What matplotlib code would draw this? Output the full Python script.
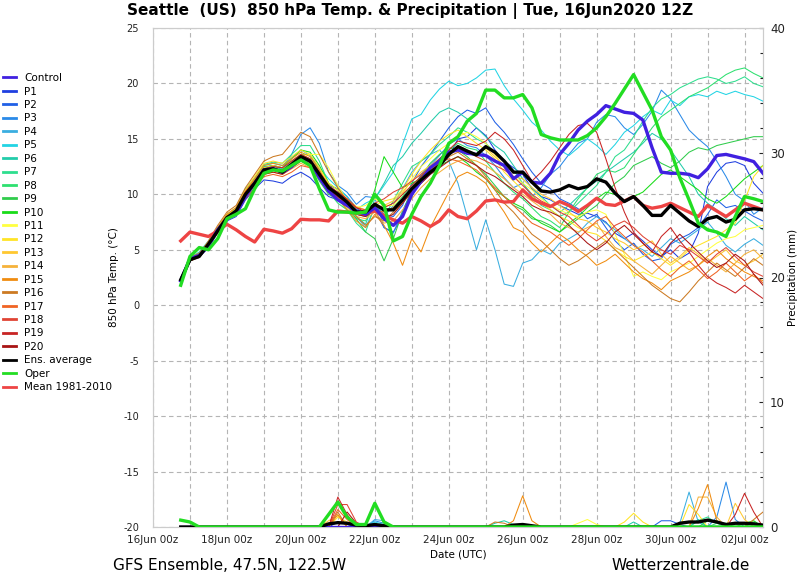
import numpy as np
import matplotlib
matplotlib.use("Agg")
import matplotlib.pyplot as plt
import matplotlib.dates as mdates
from matplotlib.ticker import MultipleLocator

plt.rcParams['font.family'] = ['DejaVu Sans']
plt.rcParams['axes.unicode_minus'] = False

# ---------------- data ----------------
start_time = np.datetime64('2020-06-16T18:00')
n_steps = 64
times = start_time + np.arange(n_steps) * np.timedelta64(6, 'h')
tick_dates = np.arange(np.datetime64('2020-06-16'), np.datetime64('2020-07-03'), np.timedelta64(2, 'D'))

control = [2.2, 4.2, 4.5, 5.3, 6.8, 7.8, 8.3, 9.8,
           11.0, 12.2, 12.3, 12.0, 12.5, 13.3, 13.0, 11.5,
           10.3, 9.5, 9.0, 8.5, 8.2, 8.8, 7.8, 7.2,
           8.0, 10.0, 11.2, 12.4, 13.0, 13.8, 14.0, 13.7,
           13.6, 13.5, 13.0, 12.6, 11.4, 12.0, 11.1, 11.0,
           11.9, 13.6, 14.6, 15.8, 16.6, 17.2, 18.0, 17.7,
           17.4, 17.3, 16.7, 14.2, 12.0, 11.9, 11.9, 11.8,
           11.5, 12.3, 13.5, 13.6, 13.4, 13.2, 12.95, 11.9]

P1 = [2.4, 4.0, 4.5, 5.4, 6.5, 7.6, 8.0, 9.5,
      10.5, 11.3, 11.2, 11.0, 11.6, 12.0, 11.5, 10.6,
      9.8, 9.5, 9.0, 8.2, 8.0, 8.6, 7.0, 6.6,
      8.0, 10.0, 11.0, 11.8, 12.5, 13.4, 15.0, 15.2,
      16.0, 15.3, 14.0, 13.0, 12.4, 11.8, 10.5, 9.8,
      9.5, 9.0, 8.6, 8.2, 8.3, 8.0, 7.5, 6.5,
      6.0, 6.5, 5.8, 5.0, 4.4, 5.0, 4.2, 4.7,
      6.5, 10.7, 12.0, 12.8, 12.95, 12.6, 11.0, 10.1]
P2 = [2.2, 4.3, 4.6, 5.6, 7.0, 8.0, 8.6, 10.1,
      11.2, 12.3, 12.6, 12.2, 12.9, 13.5, 13.2, 12.0,
      10.8, 10.5, 9.8, 8.8, 8.0, 9.0, 8.2, 8.0,
      9.0, 11.0, 12.5, 13.6, 14.8, 16.0, 17.0, 17.6,
      17.3, 17.8, 16.5, 15.6, 14.5, 13.2, 12.0, 11.0,
      10.5, 9.6, 9.2, 8.7, 7.8, 8.2, 7.0, 5.8,
      5.0, 5.6, 4.6, 4.0, 4.2, 5.5, 6.0, 6.4,
      7.0, 8.2, 9.5, 8.8, 9.0, 8.5, 8.0, 7.6]
P3 = [2.5, 4.2, 4.5, 5.6, 6.8, 7.9, 8.4, 10.0,
      11.3, 12.4, 12.6, 12.4, 13.6, 15.4, 16.0, 14.6,
      12.0, 10.8, 10.2, 9.1, 9.8, 9.7, 7.0, 6.5,
      8.5, 10.3, 11.8, 12.6, 13.5, 14.5, 15.0, 14.4,
      14.2, 13.5, 12.6, 11.5, 10.6, 11.0, 9.8, 10.6,
      11.8, 12.5, 13.6, 14.6, 15.0, 16.5, 17.2, 17.0,
      16.0, 15.4, 16.3, 17.5, 19.4, 18.6, 17.2, 15.8,
      15.0, 14.3, 13.0, 11.6, 10.0, 9.4, 8.2, 8.8]
P4 = [2.3, 4.1, 4.3, 5.4, 6.8, 8.0, 8.4, 9.8,
      11.0, 12.0, 12.2, 12.0, 12.5, 13.3, 12.8, 11.5,
      10.5, 10.2, 9.4, 8.0, 7.0, 8.8, 8.0, 9.0,
      10.5, 12.0, 13.0, 13.6, 14.0, 13.0, 11.0, 8.0,
      5.0, 7.7, 5.0, 1.9, 1.7, 3.8, 4.1, 5.0,
      4.6, 5.6, 6.0, 6.5, 7.4, 8.0, 7.4, 6.8,
      6.0, 5.4, 5.0, 4.4, 5.2, 6.0, 5.6, 6.2,
      6.8, 7.5, 6.5, 5.4, 4.8, 5.5, 6.0, 5.4]
P5 = [2.3, 4.3, 4.8, 5.8, 7.0, 8.2, 8.8, 10.5,
      11.5, 12.6, 12.8, 12.6, 13.3, 14.0, 13.5, 12.4,
      11.4, 10.6, 9.8, 8.6, 9.2, 9.6, 10.8, 12.0,
      14.5, 16.8, 17.2, 18.5, 19.5, 20.2, 19.8, 20.0,
      20.5, 21.2, 21.3, 19.8, 18.6, 17.6, 16.5, 15.8,
      14.8, 14.0, 13.5, 14.2, 15.0, 14.4, 13.6, 14.5,
      15.6, 16.2, 17.0, 17.6, 17.2, 18.5, 18.0, 18.8,
      19.0, 18.8, 19.3, 19.0, 19.3, 19.0, 18.8, 18.4]
P6 = [2.2, 4.0, 4.4, 5.2, 6.6, 7.8, 8.5, 10.2,
      11.3, 12.5, 12.6, 12.3, 13.0, 13.6, 13.2, 12.0,
      10.6, 9.8, 9.0, 8.0, 7.3, 9.6, 11.0, 12.6,
      13.4, 14.6, 15.5, 16.5, 17.4, 17.8, 17.4, 16.8,
      16.0, 15.2, 14.4, 13.8, 12.6, 11.4, 10.6, 9.8,
      9.0, 8.4, 9.0, 9.8, 10.6, 11.2, 12.0, 12.6,
      13.2, 13.8, 14.6, 15.5, 15.0, 14.0, 12.8, 11.6,
      10.0, 9.2, 8.6, 7.8, 7.2, 8.0, 7.4, 6.8]
P7 = [2.4, 4.2, 4.5, 5.5, 6.9, 8.1, 8.7, 10.3,
      11.4, 12.7, 12.9, 12.8, 13.6, 14.4, 14.4, 13.0,
      11.0, 9.6, 8.6, 7.4, 6.6, 9.0, 8.0, 9.4,
      11.0, 12.5, 13.0, 13.6, 14.5, 15.2, 16.0, 15.6,
      15.0, 14.6, 13.8, 13.0, 12.2, 11.0, 10.0, 9.0,
      8.6, 8.0, 8.4, 9.2, 10.0, 10.8, 12.0, 13.4,
      14.0, 15.2, 16.6, 17.8, 18.6, 19.0, 19.6, 20.0,
      20.4, 20.6, 20.4, 20.0, 20.2, 20.6, 20.0, 19.7]
P8 = [2.3, 4.1, 4.5, 5.5, 6.7, 7.8, 8.4, 9.8,
      11.0, 12.2, 12.4, 12.2, 12.8, 13.6, 13.6, 12.2,
      10.2, 9.2, 8.6, 7.8, 7.6, 9.2, 8.4, 8.8,
      9.8, 10.8, 11.6, 12.4, 13.2, 14.0, 14.6, 14.2,
      14.0, 13.0, 12.0, 11.0, 10.2, 9.6, 8.8, 8.0,
      7.6, 7.0, 8.4, 9.6, 10.6, 11.8, 12.2, 12.0,
      12.4, 13.6, 14.8, 16.0, 17.0, 17.6, 18.2, 18.8,
      19.2, 19.6, 20.2, 20.8, 21.2, 21.4, 20.9, 20.5]
P9 = [2.2, 4.0, 4.4, 5.3, 6.6, 7.8, 8.3, 9.9,
      11.0, 12.1, 12.2, 12.0, 12.6, 13.2, 12.6, 11.2,
      10.0, 9.6, 9.0, 7.8, 6.6, 6.0, 4.0, 6.0,
      8.4, 10.4, 11.6, 12.8, 13.6, 14.2, 14.0, 13.4,
      12.6, 11.8, 10.8, 9.8, 9.0, 8.6, 7.8, 7.6,
      7.2, 6.6, 7.2, 7.8, 8.4, 9.0, 10.0, 11.0,
      11.6, 12.6, 13.0, 13.4, 12.8, 12.4, 13.0, 13.8,
      14.2, 14.0, 14.4, 14.6, 14.8, 15.0, 15.2, 15.2]
P10 = [2.1, 4.2, 4.7, 5.6, 6.8, 8.0, 8.6, 10.2,
       11.2, 12.4, 12.6, 12.4, 13.2, 14.0, 13.8, 12.6,
       11.0, 10.4, 9.4, 8.6, 8.2, 10.4, 13.4, 12.0,
       10.6, 11.0, 11.4, 12.0, 12.6, 13.0, 13.4, 12.8,
       12.0, 11.4, 10.4, 9.8, 9.2, 8.8, 8.0, 7.4,
       7.0, 6.6, 7.4, 8.0, 8.8, 9.6, 10.2, 10.0,
       9.4, 9.8, 10.2, 11.0, 11.8, 12.2, 11.6, 11.0,
       10.4, 9.6, 9.2, 9.8, 10.6, 11.4, 12.0, 12.6]
P11 = [2.3, 4.2, 4.6, 5.6, 6.9, 8.1, 8.6, 10.0,
       11.0, 12.0, 12.2, 12.1, 12.8, 13.5, 13.6, 13.6,
       12.4, 10.8, 9.4, 8.8, 9.0, 9.6, 9.0, 9.0,
       10.0, 11.4, 12.5, 13.2, 14.0, 14.6, 15.2, 15.6,
       15.2, 14.6, 13.6, 12.4, 11.6, 11.0, 10.4, 9.6,
       9.0, 8.6, 8.2, 8.0, 8.4, 8.6, 8.2, 6.4,
       4.6, 2.6, 3.0, 2.6, 2.3, 3.0, 3.4, 3.8,
       4.4, 5.0, 5.6, 6.0, 6.2, 6.8, 7.0, 7.2]
P12 = [2.4, 4.3, 4.6, 5.7, 7.0, 8.2, 8.8, 10.4,
       11.6, 12.8, 13.0, 12.8, 13.4, 14.0, 13.6, 12.4,
       11.0, 10.4, 9.6, 8.9, 8.6, 9.0, 9.4, 9.6,
       10.4, 11.8, 13.0, 14.0, 14.8, 15.4, 15.8, 15.2,
       14.6, 14.0, 13.2, 12.0, 11.2, 10.4, 9.8, 9.2,
       8.6, 8.0, 7.6, 7.0, 6.6, 6.4, 5.8, 5.0,
       4.4, 4.0, 4.4, 4.8, 4.2, 3.6, 4.2, 5.0,
       5.4, 5.8, 6.2, 6.8, 7.4, 9.4, 11.6, 12.6]
P13 = [2.2, 4.1, 4.4, 5.5, 6.8, 8.0, 8.5, 10.1,
       11.3, 12.4, 12.6, 12.4, 13.0, 13.6, 13.2, 12.0,
       10.8, 10.0, 9.2, 8.4, 8.2, 8.8, 9.0, 9.4,
       10.2, 11.2, 12.0, 12.6, 13.2, 13.6, 14.4, 14.0,
       13.6, 14.2, 13.4, 12.6, 11.6, 11.4, 10.6, 10.0,
       9.6, 9.0, 8.4, 7.8, 7.6, 7.0, 6.6, 6.0,
       5.6, 5.0, 5.4, 5.8, 4.6, 3.8, 4.4, 5.2,
       4.6, 3.8, 4.4, 5.0, 4.0, 3.6, 4.0, 4.6]
P14 = [2.3, 4.0, 4.4, 5.4, 6.6, 7.8, 8.4, 9.8,
       10.8, 11.8, 12.0, 11.8, 12.3, 12.8, 12.4, 11.4,
       10.2, 9.6, 8.8, 8.0, 7.8, 8.4, 7.4, 7.6,
       8.6, 9.6, 10.6, 11.4, 12.0, 12.6, 13.0, 13.2,
       13.0, 12.6, 12.0, 11.4, 10.6, 10.0, 9.4, 8.8,
       8.2, 7.4, 7.0, 6.6, 7.0, 7.4, 6.2, 5.2,
       4.8, 4.0, 3.4, 2.8, 3.6, 4.4, 3.8, 3.2,
       3.6, 4.2, 3.6, 3.0, 3.8, 4.6, 5.0, 4.2]
P15 = [2.4, 4.3, 4.7, 5.7, 7.0, 8.2, 8.8, 10.3,
       11.4, 12.6, 12.8, 12.6, 13.2, 13.8, 13.4, 12.2,
       10.8, 9.6, 8.6, 7.6, 7.0, 8.2, 7.2, 5.6,
       3.6, 6.0, 4.8, 7.0, 8.6, 10.2, 11.6, 12.0,
       11.6, 11.0, 9.6, 8.4, 7.0, 6.6, 5.6, 4.8,
       5.6, 6.4, 5.8, 5.0, 4.4, 3.6, 4.0, 4.6,
       3.8, 3.0, 2.4, 2.0, 1.4, 2.2, 2.6, 3.0,
       3.6, 4.4, 5.0, 4.2, 3.6, 3.0, 2.6, 2.2]
P16 = [2.3, 4.2, 4.6, 5.8, 7.2, 8.4, 9.0, 10.6,
       11.8, 13.0, 13.4, 13.6, 14.6, 15.6, 15.2, 13.6,
       12.0, 10.6, 9.4, 8.0, 7.2, 8.0, 7.6, 8.4,
       9.2, 10.4, 11.2, 12.0, 12.8, 13.4, 13.8, 13.2,
       12.6, 11.6, 10.4, 9.2, 8.4, 7.4, 6.4, 5.8,
       5.0, 4.2, 3.6, 4.0, 4.6, 5.2, 5.8, 5.0,
       4.2, 3.4, 2.6, 1.8, 1.2, 0.6, 0.3, 1.2,
       2.2, 3.0, 3.8, 3.2, 2.6, 3.4, 4.2, 3.6]
P17 = [2.2, 4.0, 4.3, 5.3, 6.5, 7.7, 8.2, 9.6,
       10.6, 11.6, 11.8, 11.6, 12.0, 12.6, 12.4, 11.4,
       10.4, 9.8, 9.0, 8.4, 8.0, 8.6, 8.4, 8.8,
       9.6, 10.6, 11.4, 12.2, 12.8, 13.2, 13.0, 12.6,
       12.2, 11.4, 10.6, 9.8, 9.0, 8.2, 7.4, 7.0,
       6.6, 6.0, 5.4, 6.0, 6.8, 7.6, 8.0, 7.0,
       6.2, 5.4, 4.8, 4.0, 3.2, 2.6, 3.4, 4.0,
       3.2, 2.4, 3.0, 3.8, 3.0, 2.2, 2.8, 2.0]
P18 = [2.4, 4.1, 4.5, 5.5, 6.7, 7.9, 8.5, 10.0,
       11.0, 12.1, 12.3, 12.2, 12.8, 13.2, 12.8, 11.8,
       10.6, 10.0, 9.4, 8.8, 8.6, 9.2, 9.6, 10.2,
       10.6, 11.2, 11.8, 12.4, 13.0, 13.6, 14.0, 13.8,
       13.4, 13.0, 12.6, 12.2, 11.6, 10.8, 10.0, 9.4,
       9.0, 8.4, 8.0, 7.2, 6.4, 5.8, 6.4, 7.2,
       7.6, 7.0, 6.2, 5.6, 5.0, 4.6, 5.4, 5.0,
       4.4, 3.8, 4.6, 5.2, 4.4, 3.6, 3.0, 2.6]
P19 = [2.3, 4.2, 4.5, 5.6, 6.9, 8.0, 8.6, 10.2,
       11.2, 12.3, 12.5, 12.4, 13.0, 13.6, 13.2, 12.0,
       10.8, 10.2, 9.6, 8.8, 8.4, 9.0, 8.8, 9.2,
       10.0, 10.8, 11.6, 12.4, 13.2, 14.0, 14.8, 14.6,
       14.4, 14.8, 15.6, 15.0, 14.0, 12.6, 11.2, 12.0,
       13.0, 14.2, 15.4, 16.2, 16.4, 15.6, 13.2, 10.6,
       8.4, 6.6, 5.6, 4.8, 6.2, 7.0, 5.8, 4.8,
       3.6, 2.6, 2.0, 1.6, 1.1, 1.8, 1.2, 0.6]
P20 = [2.2, 4.0, 4.4, 5.4, 6.6, 7.8, 8.3, 9.8,
       10.8, 11.8, 12.0, 11.8, 12.4, 13.0, 12.6, 11.6,
       10.4, 9.8, 9.2, 8.2, 8.0, 8.6, 7.8, 8.2,
       9.2, 10.2, 11.0, 11.8, 12.4, 13.0, 13.4, 13.0,
       12.6, 12.0, 11.6, 11.0, 10.4, 9.8, 9.0, 8.6,
       8.4, 8.0, 7.2, 6.4, 5.6, 5.0, 5.6, 6.6,
       7.2, 6.4, 5.6, 4.8, 4.4, 5.6, 6.4, 5.6,
       4.8, 4.0, 3.4, 3.8, 4.6, 4.0, 2.8, 1.8]

ens_average = [2.3, 4.1, 4.4, 5.5, 6.7, 7.9, 8.5, 10.0,
               11.0, 12.2, 12.3, 12.0, 12.7, 13.4, 13.0, 11.8,
               10.6, 10.0, 9.3, 8.4, 8.4, 9.1, 8.6, 8.6,
               9.5, 10.5, 11.3, 12.0, 12.6, 13.6, 14.3, 13.9,
               13.55, 14.3, 13.8, 13.0, 12.0, 12.0, 11.1, 10.3,
               10.2, 10.4, 10.8, 10.5, 10.7, 11.4, 11.1, 10.1,
               9.35, 9.8, 9.0, 8.1, 8.1, 9.0, 8.3, 7.6,
               7.1, 7.8, 8.0, 7.5, 7.75, 8.6, 8.7, 8.6]

oper = [1.8, 4.4, 5.2, 5.0, 6.0, 7.8, 8.2, 8.7,
        10.5, 11.9, 12.2, 12.1, 12.6, 13.1, 12.6, 10.5,
        8.6, 8.4, 8.4, 8.3, 8.4, 10.0, 9.0, 5.8,
        6.2, 8.2, 9.8, 11.0, 12.6, 14.6, 15.2, 16.6,
        17.3, 19.4, 19.4, 18.7, 18.7, 19.0, 17.8, 15.4,
        15.1, 14.9, 14.9, 14.9, 15.3, 16.0, 17.0, 18.2,
        19.5, 20.8, 19.2, 17.6, 15.2, 14.0, 11.5, 9.5,
        7.4, 6.8, 6.6, 6.2, 8.0, 9.8, 9.6, 9.35]

mean_1981_2010 = [5.8, 6.6, 6.4, 6.2, 6.7, 7.3, 6.8, 6.2,
                  5.7, 6.85, 6.7, 6.5, 6.9, 7.75, 7.7, 7.7,
                  7.6, 8.5, 8.4, 8.3, 8.3, 8.5, 8.1, 7.7,
                  7.4, 8.0, 7.6, 7.1, 7.6, 8.6, 8.0, 7.8,
                  8.5, 9.4, 9.5, 9.3, 9.35, 10.4, 9.6, 9.2,
                  8.9, 9.35, 9.0, 8.45, 9.0, 9.65, 9.1, 9.0,
                  9.4, 9.8, 9.0, 8.75, 8.9, 9.2, 8.8, 8.4,
                  8.0, 9.0, 8.5, 8.0, 8.6, 9.2, 8.9, 8.6]

# precipitation (mm) per 6h step: {step index: value}; all other steps are 0
precip_control = {}
precip_members = {
    'P1': {17: 0.4, 18: 0.2},
    'P2': {52: 0.5, 53: 0.5, 54: 0.2},
    'P3': {21: 0.5, 22: 0.3, 58: 0.8, 59: 3.6, 60: 0.6},
    'P4': {21: 0.6, 22: 0.5, 54: 0.3, 55: 2.8, 56: 0.4},
    'P5': {21: 0.4, 22: 0.2},
    'P6': {34: 0.3, 35: 0.5, 36: 0.2, 49: 0.4, 56: 0.6},
    'P7': {56: 0.5, 57: 0.8, 58: 0.3},
    'P8': {58: 0.3, 59: 0.3, 62: 0.4},
    'P9': {57: 0.5, 58: 0.5},
    'P10': {61: 0.3, 62: 0.5},
    'P11': {43: 0.3, 44: 0.6, 45: 0.2},
    'P12': {17: 0.8, 18: 0.4, 48: 0.4, 49: 1.1, 50: 0.4, 55: 1.8, 56: 1.0},
    'P13': {16: 0.5, 17: 0.9, 60: 1.9, 61: 0.6},
    'P14': {56: 2.4, 57: 2.4, 58: 0.8},
    'P15': {17: 1.0, 36: 0.5, 37: 2.5, 38: 0.5, 56: 1.5, 57: 3.4, 58: 0.5},
    'P16': {17: 1.2, 34: 0.4, 35: 0.3, 62: 0.6, 63: 1.2},
    'P17': {17: 1.4, 18: 0.6},
    'P18': {17: 1.8, 18: 1.8, 19: 0.4},
    'P19': {17: 2.4, 18: 1.0, 60: 1.0, 61: 2.7, 62: 1.2},
    'P20': {18: 1.2, 19: 0.3},
}
precip_ens_average = {16: 0.25, 17: 0.35, 18: 0.3, 19: 0.15, 20: 0.1, 21: 0.2, 22: 0.1,
                      36: 0.15, 37: 0.2, 38: 0.1, 54: 0.3, 55: 0.4, 56: 0.4, 57: 0.55,
                      58: 0.4, 59: 0.2, 60: 0.3, 61: 0.3, 62: 0.25, 63: 0.15}
precip_oper = {0: 0.55, 1: 0.4, 16: 1.0, 17: 2.0, 18: 0.8, 19: 0.2, 20: 0.2, 21: 1.9, 22: 0.4}

members = {'P1': P1, 'P2': P2, 'P3': P3, 'P4': P4, 'P5': P5, 'P6': P6, 'P7': P7,
           'P8': P8, 'P9': P9, 'P10': P10, 'P11': P11, 'P12': P12, 'P13': P13,
           'P14': P14, 'P15': P15, 'P16': P16, 'P17': P17, 'P18': P18, 'P19': P19,
           'P20': P20}

member_colors = ['#1f3fe0', '#2060e6', '#2a8ae8', '#3aaee0', '#22d4e4', '#22ccaa',
                 '#2ede8e', '#2ee070', '#30cc4c', '#18dc18', '#ffff40', '#ffe426',
                 '#ffc830', '#f6b23a', '#f08c10', '#cc7a22', '#f06424', '#e04434',
                 '#c82424', '#a81414']
control_color = '#4020e0'
ens_color = '#000000'
oper_color = '#22dd22'
mean_color = '#ee4444'


def sparse_to_array(d):
    arr = np.zeros(n_steps)
    for k, v in d.items():
        arr[k] = v
    return arr


# ---------------- figure ----------------
fig = plt.figure(figsize=(8.0, 5.84), dpi=100)
ax = fig.add_axes([153 / 800, 1 - 527 / 584, (763 - 153) / 800, (527 - 28) / 584])
ax2 = ax.twinx()

thin = 0.75
thick = 2.4

ctrl_handle, = ax.plot(times, control, color=control_color, lw=thick, zorder=5)
member_handles = []
for (name, vals), c in zip(members.items(), member_colors):
    h, = ax.plot(times, vals, color=c, lw=thin, zorder=3)
    member_handles.append(h)
h_mean, = ax.plot(times, mean_1981_2010, color=mean_color, lw=thick, zorder=4)
h_ens, = ax.plot(times, ens_average, color=ens_color, lw=thick, zorder=6)
h_oper, = ax.plot(times, oper, color=oper_color, lw=thick, zorder=7)

# precipitation on secondary axis
for (name, d), c in zip(precip_members.items(), member_colors):
    ax2.plot(times, sparse_to_array(d), color=c, lw=thin, zorder=3)
ax2.plot(times, sparse_to_array(precip_control), color=control_color, lw=thick, zorder=4)
ax2.plot(times, sparse_to_array(precip_ens_average), color=ens_color, lw=thick, zorder=5)
ax2.plot(times, sparse_to_array(precip_oper), color=oper_color, lw=thick, zorder=6)

# axes limits & ticks
ax.set_xlim(np.datetime64('2020-06-16T00:00'), np.datetime64('2020-07-02T12:00'))
ax.set_ylim(-20, 25)
ax.set_yticks(np.arange(-20, 26, 5))
ax2.set_ylim(0, 40)
ax2.set_yticks(np.arange(0, 41, 10))
ax2.yaxis.set_minor_locator(MultipleLocator(2))

ax.set_xticks(tick_dates)
ax.xaxis.set_minor_locator(mdates.DayLocator())
ax.xaxis.set_major_formatter(mdates.DateFormatter('%d%b %Hz'))

grid_kw = dict(color='#b4b4b4', lw=0.8, ls=(0, (4, 3)))
ax.grid(True, which='both', axis='x', **grid_kw)
ax.grid(True, which='major', axis='y', **grid_kw)
ax.set_axisbelow(True)

ax.tick_params(axis='x', which='both', length=0, labelsize=7.5, colors='#222222', pad=6)
ax.tick_params(axis='y', which='both', length=0, labelsize=7, colors='#222222', pad=10)
ax2.tick_params(axis='y', which='major', direction='in', length=3, width=0.8,
                labelsize=8.5, pad=5, colors='#222222')
ax2.tick_params(axis='y', which='minor', direction='in', length=2.5, width=0.8,
                colors='#222222')

for a in (ax, ax2):
    for s in a.spines.values():
        s.set_color('#cccccc')
        s.set_linewidth(0.8)

ax.set_ylabel('850 hPa Temp. (°C)', fontsize=7.5, labelpad=3)
ax2.set_ylabel('Precipitation (mm)', fontsize=7.5, labelpad=2)
ax.set_xlabel('Date (UTC)', fontsize=7.5, labelpad=3)

# title and footer
fig.text(410 / 800, 1 - 11 / 584, 'Seattle  (US)  850 hPa Temp. & Precipitation | Tue, 16Jun2020 12Z',
         ha='center', va='center', fontsize=11, fontweight='bold')
fig.text(113 / 800, 1 - 565 / 584, 'GFS Ensemble, 47.5N, 122.5W', ha='left', va='center', fontsize=11)
fig.text(750 / 800, 1 - 565 / 584, 'Wetterzentrale.de', ha='right', va='center', fontsize=11)

# legend
leg_handles = [ctrl_handle] + member_handles + [h_ens, h_oper, h_mean]
leg_labels = ['Control'] + list(members.keys()) + ['Ens. average', 'Oper', 'Mean 1981-2010']
leg = fig.legend(leg_handles, leg_labels, loc='upper left',
                 bbox_to_anchor=(0.0, 1 - 70 / 584), frameon=False, fontsize=7.5,
                 handlelength=1.2, handletextpad=0.8, labelspacing=0.33,
                 borderaxespad=0.0, borderpad=0.3)
for line in leg.get_lines():
    line.set_linewidth(2.0)

fig.savefig('out.png', dpi=100)
